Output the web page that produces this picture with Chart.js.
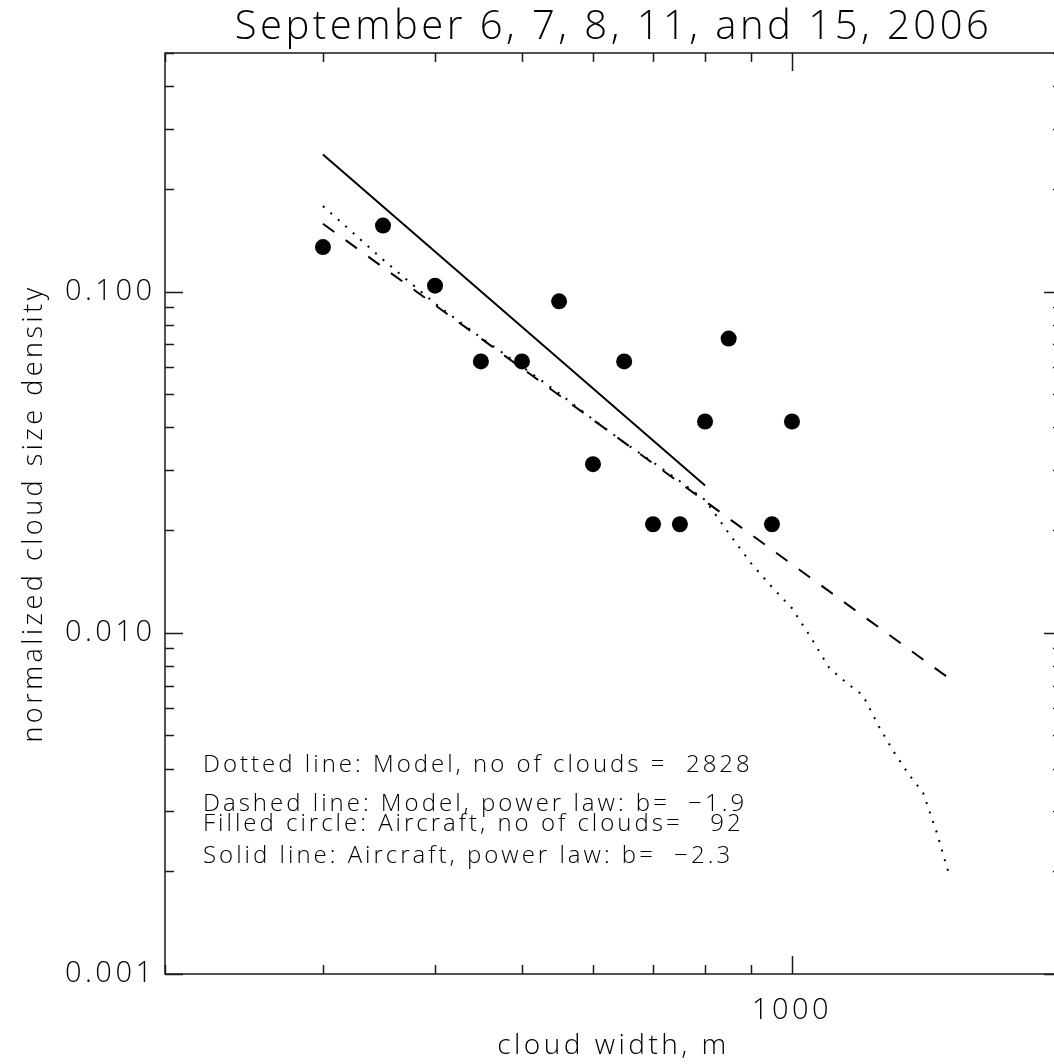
<!DOCTYPE html>
<html>
<head>
<meta charset="utf-8">
<title>Cloud size density</title>
<script src="https://cdn.jsdelivr.net/npm/chart.js@4.4.0/dist/chart.umd.min.js"></script>
<style>
  html, body { margin: 0; padding: 0; background: #fff; overflow: hidden; }
  canvas { display: block; }
</style>
</head>
<body>
<canvas id="sizeChart" width="1100" height="1064"></canvas>
<script>
// ------------------------------------------------------------
// Cloud size density, aircraft vs model, log-log
// ------------------------------------------------------------

// Aircraft bins (cloud width, m) and normalized density
const aircraftWidths = [300, 350, 400, 450, 500, 550, 600, 650, 700, 750, 800, 850, 950, 1000];
const aircraftDensity = [0.135, 0.156, 0.104, 0.0624, 0.0624, 0.0936, 0.0312, 0.0624, 0.0208, 0.0208, 0.0416, 0.0728, 0.0208, 0.0416];

// Model distribution
const modelWidths = [300, 350, 400, 450, 500, 550, 600, 650, 700, 750, 800, 850, 900, 950, 1000,
  1050, 1100, 1150, 1200, 1250, 1300, 1350, 1400, 1450, 1500];
const modelDensity = [0.178, 0.124, 0.0922, 0.0733, 0.0603, 0.0503, 0.0422, 0.0361, 0.0316, 0.0278,
  0.0245, 0.0196, 0.0160, 0.0136, 0.0118, 0.00967, 0.0079, 0.00714, 0.00655, 0.00531,
  0.00446, 0.00384, 0.0034, 0.0026, 0.00192];

// Power-law fits (end points)
const modelFitWidths = [300, 1500];
const modelFitDensity = [0.158, 0.00732];
const aircraftFitWidths = [300, 800];
const aircraftFitDensity = [0.252, 0.0270];

// Axis ranges and labelled ticks
const xRange = [200, 2000];
const yRange = [0.001, 0.5];
const xTickLabels = [1000];
const yTickLabels = [0.001, 0.01, 0.1];

const chartTitle = "September 6, 7, 8, 11, and 15, 2006";
const xTitle = "cloud width, m";
const yTitle = "normalized cloud size density";

const noteLines = [
  "Dotted line: Model, no of clouds =  2828",
  "Dashed line: Model, power law: b=  \u22121.9",
  "Filled circle: Aircraft, no of clouds=   92",
  "Solid line: Aircraft, power law: b=  \u22122.3"
];
// distance of each note line centre above the bottom axis
const noteOffsets = [209, 170, 150, 118];

const FONT = "'Open Sans', 'DejaVu Sans', sans-serif";
const WEIGHT = "300";
const INK = "#000";

function pairs(xs, ys) {
  return xs.map((x, i) => ({ x, y: ys[i] }));
}

// log tick values 1..9 x 10^k inside [min, max]
function logTickValues(min, max) {
  const out = [];
  for (let k = Math.floor(Math.log10(min)); k <= Math.ceil(Math.log10(max)); k++) {
    for (let m = 1; m <= 9; m++) {
      const v = m * Math.pow(10, k);
      if (v >= min * 0.9999 && v <= max * 1.0001) out.push({ v, major: m === 1 });
    }
  }
  return out;
}

// ============================================================
// FRAME: box, inward ticks on all four sides, notes
// ============================================================

const framePlugin = {
  id: "frame",
  beforeDraw(chart) {
    // plot lettering is widely spaced
    chart.ctx.letterSpacing = "3.5px";
  },
  afterDatasetsDraw(chart) {
    const { ctx, chartArea: a, scales: { x, y } } = chart;
    ctx.save();
    ctx.strokeStyle = "#1a1a1a";
    ctx.lineWidth = 1.5;
    ctx.strokeRect(a.left, a.top, a.right - a.left, a.bottom - a.top);

    ctx.beginPath();
    logTickValues(xRange[0], xRange[1]).forEach(t => {
      const px = Math.round(x.getPixelForValue(t.v)) + 0.5;
      const len = t.major ? 18 : 9;
      ctx.moveTo(px, a.bottom);
      ctx.lineTo(px, a.bottom - len);
      ctx.moveTo(px, a.top);
      ctx.lineTo(px, a.top + len);
    });
    logTickValues(yRange[0], yRange[1]).forEach(t => {
      const py = Math.round(y.getPixelForValue(t.v)) + 0.5;
      const len = t.major ? 18 : 9;
      ctx.moveTo(a.left, py);
      ctx.lineTo(a.left + len, py);
      ctx.moveTo(a.right, py);
      ctx.lineTo(a.right - len, py);
    });
    ctx.stroke();

    ctx.fillStyle = INK;
    ctx.font = WEIGHT + " 24px " + FONT;
    ctx.letterSpacing = "3px";
    ctx.textAlign = "left";
    ctx.textBaseline = "middle";
    noteLines.forEach((line, i) => {
      ctx.fillText(line, a.left + 38, a.bottom - noteOffsets[i]);
    });
    ctx.restore();
  }
};

// ============================================================
// CHART
// ============================================================

new Chart(document.getElementById("sizeChart"), {
  type: "scatter",
  data: {
    datasets: [
      {
        label: "Aircraft",
        data: pairs(aircraftWidths, aircraftDensity),
        showLine: false,
        pointRadius: 8,
        pointBackgroundColor: INK,
        pointBorderWidth: 0
      },
      {
        label: "Model",
        data: pairs(modelWidths, modelDensity),
        showLine: true,
        pointRadius: 0,
        borderColor: INK,
        borderWidth: 2,
        borderDash: [2, 8]
      },
      {
        label: "Model power law",
        data: pairs(modelFitWidths, modelFitDensity),
        showLine: true,
        pointRadius: 0,
        borderColor: INK,
        borderWidth: 2,
        borderDash: [14, 14]
      },
      {
        label: "Aircraft power law",
        data: pairs(aircraftFitWidths, aircraftFitDensity),
        showLine: true,
        pointRadius: 0,
        borderColor: INK,
        borderWidth: 2
      }
    ]
  },
  options: {
    responsive: false,
    animation: false,
    layout: { padding: { left: 0, right: 38, top: 0, bottom: 0 } },
    plugins: {
      legend: { display: false },
      tooltip: { enabled: false },
      title: {
        display: true,
        text: chartTitle,
        fullSize: false,
        color: INK,
        font: { family: FONT, size: 40, weight: WEIGHT },
        padding: { top: 4, bottom: 1 }
      }
    },
    scales: {
      x: {
        type: "logarithmic",
        min: xRange[0],
        max: xRange[1],
        grid: { display: false, drawTicks: false },
        border: { display: false },
        afterBuildTicks: scale => {
          scale.ticks = xTickLabels.map(v => ({ value: v }));
        },
        afterFit: scale => { scale.height = 90; },
        ticks: {
          autoSkip: false,
          maxRotation: 0,
          padding: 19,
          color: INK,
          font: { family: FONT, size: 29, weight: WEIGHT },
          callback: v => String(v)
        },
        title: {
          display: true,
          text: xTitle,
          color: INK,
          font: { family: FONT, size: 28, weight: WEIGHT },
          padding: { top: 0, bottom: 1 }
        }
      },
      y: {
        type: "logarithmic",
        min: yRange[0],
        max: yRange[1],
        grid: { display: false, drawTicks: false },
        border: { display: false },
        afterBuildTicks: scale => {
          scale.ticks = yTickLabels.map(v => ({ value: v }));
        },
        afterFit: scale => { scale.width = 165; },
        ticks: {
          autoSkip: false,
          padding: 9.5,
          color: INK,
          font: { family: FONT, size: 29, weight: WEIGHT },
          callback: v => Number(v).toFixed(3)
        },
        title: {
          display: true,
          text: yTitle,
          color: INK,
          font: { family: FONT, size: 27, weight: WEIGHT },
          padding: { top: 18, bottom: 0 }
        }
      }
    }
  },
  plugins: [framePlugin]
});
</script>
</body>
</html>
